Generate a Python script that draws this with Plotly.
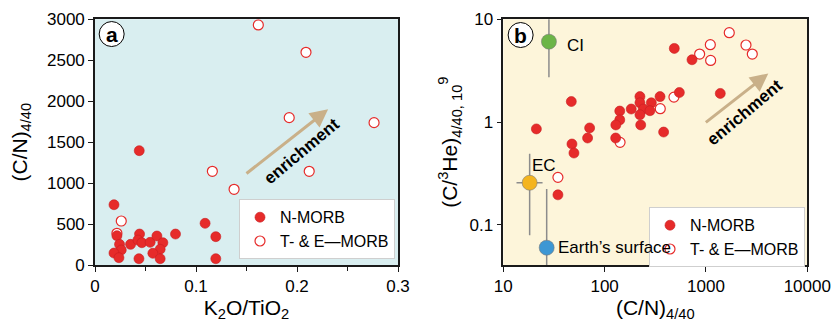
import numpy as np
import plotly.graph_objects as go

# ---- Panel (a): (C/N)4/40 vs K2O/TiO2 ----
a_n_k2o_tio2 = [0.0188, 0.0438, 0.109, 0.1196, 0.1196, 0.0797, 0.0217, 0.0243, 0.026,
                0.0188, 0.0237, 0.0352, 0.0441, 0.0425, 0.0464, 0.0435, 0.0546, 0.0613,
                0.0672, 0.0645, 0.0573, 0.0645]
a_n_cn = [736, 1396, 509, 346, 77, 378, 358, 252, 183,
          146, 89, 252, 378, 305, 272, 77, 277, 354,
          272, 192, 143, 77]
a_te_k2o_tio2 = [0.1617, 0.2089, 0.1923, 0.2763, 0.1162, 0.2121, 0.1377, 0.026, 0.0217]
a_te_cn = [2931, 2597, 1799, 1738, 1144, 1144, 924, 537, 387]

# ---- Panel (b): (C/3He)4/40 vs (C/N)4/40 ----
b_n_cn = [487, 728, 546, 1384, 352, 223, 289, 223, 183, 241, 280, 223, 141, 141, 129,
          227, 128.5, 382, 71.1, 67.9, 46.9, 21.2, 47.6, 49.8, 34.6]
b_n_che = [5.21, 4.04, 1.94, 1.90, 1.77, 1.77, 1.54, 1.54, 1.34, 1.34, 1.29, 1.18, 1.28,
           1.05, 0.938, 0.938, 0.70, 0.80, 0.877, 0.70, 1.585, 0.858, 0.612, 0.50, 0.196]
b_te_cn = [1698, 2483, 2865, 1104, 1112, 866, 483, 354, 142, 34.6]
b_te_che = [7.41, 5.62, 4.59, 5.66, 3.98, 4.59, 1.75, 1.35, 0.635, 0.29]

# Reference reservoirs: name, C/N, C/3He, vertical range, horizontal range
res_names = ["CI", "EC", "Earth\u2019s surface"]
res_cn = [28.2, 18.2, 26.8]
res_che = [6.06, 0.257, 0.060]
res_che_lo = [2.73, 0.0794, 0.03]
res_che_hi = [12.0, 0.493, 0.223]
res_cn_lo = [None, 13.5, None]
res_cn_hi = [None, 24.4, None]
res_colors = ["#6cb547", "#f4b41e", "#3d97d4"]

# Enrichment arrows (tail -> head)
arrow_a = dict(x0=0.1485, y0=1103, x1=0.2308, y1=1901)
arrow_b = dict(x0=964, y0=0.967, x1=4121, y1=2.97)
label_a_pos = (0.2045, 1384)
label_b_pos = (2428, 1.23)

RED = "#e62b2a"
RED_EDGE = "#c81f22"
GREY = "#8c8c8c"
ARROW = "#c9b089"
FONT = "Liberation Sans, Arial, sans-serif"

fig = go.Figure()

# panel a
fig.add_trace(go.Scatter(
    x=a_te_k2o_tio2, y=a_te_cn, mode="markers", name="T- & E\u2014MORB",
    marker=dict(size=10, color="white", line=dict(color=RED, width=1.2)),
    xaxis="x", yaxis="y", legend="legend", legendrank=2))
fig.add_trace(go.Scatter(
    x=a_n_k2o_tio2, y=a_n_cn, mode="markers", name="N-MORB",
    marker=dict(size=10, color=RED, line=dict(color=RED_EDGE, width=0.6)),
    xaxis="x", yaxis="y", legend="legend", legendrank=1))

# panel b: reservoir ranges
for i in range(len(res_names)):
    fig.add_trace(go.Scatter(
        x=[res_cn[i], res_cn[i]], y=[res_che_lo[i], res_che_hi[i]], mode="lines",
        line=dict(color=GREY, width=1.5), showlegend=False, hoverinfo="skip",
        xaxis="x2", yaxis="y2"))
    if res_cn_lo[i] is not None:
        fig.add_trace(go.Scatter(
            x=[res_cn_lo[i], res_cn_hi[i]], y=[res_che[i], res_che[i]], mode="lines",
            line=dict(color=GREY, width=1.5), showlegend=False, hoverinfo="skip",
            xaxis="x2", yaxis="y2"))
fig.add_trace(go.Scatter(
    x=res_cn, y=res_che, mode="markers", showlegend=False,
    marker=dict(size=15, color=res_colors, line=dict(color="#7a7a7a", width=0.6)),
    xaxis="x2", yaxis="y2"))

fig.add_trace(go.Scatter(
    x=b_te_cn, y=b_te_che, mode="markers", name="T- & E\u2014MORB",
    marker=dict(size=10, color="white", line=dict(color=RED, width=1.2)),
    xaxis="x2", yaxis="y2", legend="legend2", legendrank=2))
fig.add_trace(go.Scatter(
    x=b_n_cn, y=b_n_che, mode="markers", name="N-MORB",
    marker=dict(size=10, color=RED, line=dict(color=RED_EDGE, width=0.6)),
    xaxis="x2", yaxis="y2", legend="legend2", legendrank=1))

axis_common = dict(showline=True, mirror=True, linecolor="#1a1a1a", linewidth=1.6,
                   ticks="outside", ticklen=5, tickwidth=1.2, tickcolor="#1a1a1a",
                   showgrid=False, zeroline=False, automargin=False,
                   tickfont=dict(size=17, color="black", family=FONT),
                   title_font=dict(size=21, color="black", family=FONT))

fig.update_layout(
    template="none",
    width=832, height=322, autosize=False,
    margin=dict(l=0, r=0, t=0, b=0, pad=0),
    paper_bgcolor="white",
    font=dict(family=FONT, color="black"),
    xaxis=dict(axis_common, domain=[95 / 832, 398 / 832], range=[0, 0.3],
               tickvals=[0, 0.1, 0.2, 0.3], ticktext=["0", "0.1", "0.2", "0.3"],
               minor=dict(tickvals=[0.05, 0.15, 0.25], ticks="outside", ticklen=4,
                          tickcolor="#1a1a1a", tickwidth=1),
               title=dict(text="K<sub>2</sub>O/TiO<sub>2</sub>", standoff=10),
               anchor="y"),
    yaxis=dict(axis_common, domain=[57 / 322, 302.7 / 322], range=[0, 3000],
               tickvals=[0, 500, 1000, 1500, 2000, 2500, 3000],
               title=dict(text="(C/N)<sub>4/40</sub>", standoff=14),
               anchor="x"),
    xaxis2=dict(axis_common, domain=[503.3 / 832, 807.3 / 832], type="log",
                range=[1, 4], tickvals=[10, 100, 1000, 10000],
                ticktext=["10", "100", "1000", "10000"],
                title=dict(text="(C/N)<sub>4/40</sub>", standoff=10),
                anchor="y2"),
    yaxis2=dict(axis_common, domain=[57 / 322, 302.7 / 322], type="log",
                range=[np.log10(0.0407), 1.0], tickvals=[0.1, 1, 10],
                ticktext=["0.1", "1", "10"],
                title=dict(text="(C/<sup>3</sup>He)<sub>4/40, 10</sub><sup>9</sup>", standoff=6),
                anchor="x2"),
    plot_bgcolor="rgba(0,0,0,0)",
    legend=dict(x=395 / 832, xanchor="right", y=(322 - 199.3) / 322, yanchor="top",
                bgcolor="white", bordercolor="#cfcfcf", borderwidth=1,
                font=dict(size=16, family=FONT, color="black"), tracegroupgap=0),
    legend2=dict(x=805 / 832, xanchor="right", y=(322 - 207.3) / 322, yanchor="top",
                 bgcolor="white", bordercolor="#cfcfcf", borderwidth=1,
                 font=dict(size=16, family=FONT, color="black"), tracegroupgap=0),
)

# panel backgrounds
fig.add_shape(type="rect", xref="x domain", yref="y domain", x0=0, x1=1, y0=0, y1=1,
              fillcolor="#d9eef0", line_width=0, layer="below")
fig.add_shape(type="rect", xref="x2 domain", yref="y2 domain", x0=0, x1=1, y0=0, y1=1,
              fillcolor="#fdf5da", line_width=0, layer="below")

# panel letters in circles
for xr, yr, cx, cy, letter in [("x domain", "y domain", 0.055, 0.94, "a"),
                               ("x2 domain", "y2 domain", 0.057, 0.936, "b")]:
    fig.add_shape(type="circle", xref=xr, yref=yr, xsizemode="pixel", ysizemode="pixel",
                  xanchor=cx, yanchor=cy, x0=-12.5, x1=12.5, y0=-12.5, y1=12.5,
                  fillcolor="white", line=dict(color="black", width=1))
    fig.add_annotation(xref=xr, yref=yr, x=cx, y=cy, text="<b>%s</b>" % letter,
                       showarrow=False, font=dict(size=21, family=FONT, color="black"),
                       xanchor="center", yanchor="middle")

# enrichment arrows and labels
fig.add_annotation(xref="x", yref="y", axref="x", ayref="y",
                   x=arrow_a["x1"], y=arrow_a["y1"], ax=arrow_a["x0"], ay=arrow_a["y0"],
                   text="", showarrow=True, arrowhead=2, arrowsize=1.2, arrowwidth=3,
                   arrowcolor=ARROW)
fig.add_annotation(xref="x", yref="y", x=label_a_pos[0], y=label_a_pos[1],
                   text="<b>enrichment</b>", showarrow=False, textangle=-40,
                   font=dict(size=17, family=FONT, color="black"))
fig.add_annotation(xref="x2", yref="y2", axref="x2", ayref="y2",
                   x=np.log10(arrow_b["x1"]), y=np.log10(arrow_b["y1"]),
                   ax=np.log10(arrow_b["x0"]), ay=np.log10(arrow_b["y0"]),
                   text="", showarrow=True, arrowhead=2, arrowsize=1.2, arrowwidth=3,
                   arrowcolor=ARROW)
fig.add_annotation(xref="x2", yref="y2", x=np.log10(label_b_pos[0]), y=np.log10(label_b_pos[1]),
                   text="<b>enrichment</b>", showarrow=False, textangle=-40,
                   font=dict(size=17, family=FONT, color="black"))

# reservoir labels
fig.add_annotation(xref="x2", yref="y2", x=np.log10(res_cn[0]), y=np.log10(res_che[0]),
                   text=res_names[0], showarrow=False, xanchor="left", xshift=16, yshift=-4,
                   font=dict(size=17, family=FONT, color="black"))
fig.add_annotation(xref="x2", yref="y2", x=np.log10(res_cn[1]), y=np.log10(res_che[1]),
                   text=res_names[1], showarrow=False, xanchor="center", xshift=14, yshift=17,
                   font=dict(size=17, family=FONT, color="black"))
fig.add_annotation(xref="x2", yref="y2", x=np.log10(res_cn[2]), y=np.log10(res_che[2]),
                   text=res_names[2], showarrow=False, xanchor="left", xshift=9,
                   font=dict(size=17, family=FONT, color="black"))

fig.write_html("out.html")
